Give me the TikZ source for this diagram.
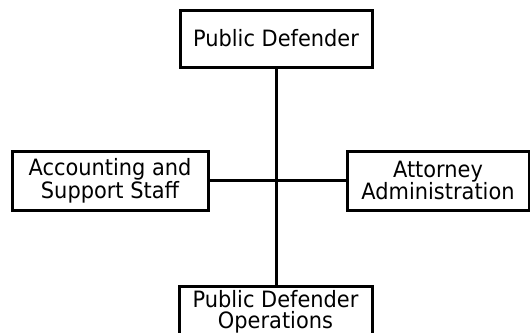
\documentclass[tikz,border=0pt]{standalone}
\usepackage{fontspec}
\setmainfont{DejaVu Sans}[FakeStretch=0.93]
\begin{document}
\begin{tikzpicture}[x=1pt,y=-1pt,
  box/.style={draw, line width=3pt, align=center, inner sep=0pt,
    font=\fontsize{22.5}{21.5}\selectfont},
  link/.style={line width=3pt}]
\useasboundingbox (0,0) rectangle (530,332);
% organisation boxes
\node[box, minimum width=192pt, minimum height=57pt] (pd) at (276,38.5) {Public Defender};
\node[box, minimum width=196pt, minimum height=59pt] (ass) at (110,180.5) {Accounting and\\Support Staff};
\node[box, minimum width=182pt, minimum height=59pt] (aa) at (438,180.5) {Attorney\\Administration};
\node[box, minimum width=193pt, minimum height=52pt] (pdo) at (275.5,312) {Public Defender\\Operations};
% connecting lines
\draw[link] (pd.south) -- (pd.south |- pdo.north);
\draw[link] (ass.east) -- (aa.west);
\end{tikzpicture}
\end{document}
